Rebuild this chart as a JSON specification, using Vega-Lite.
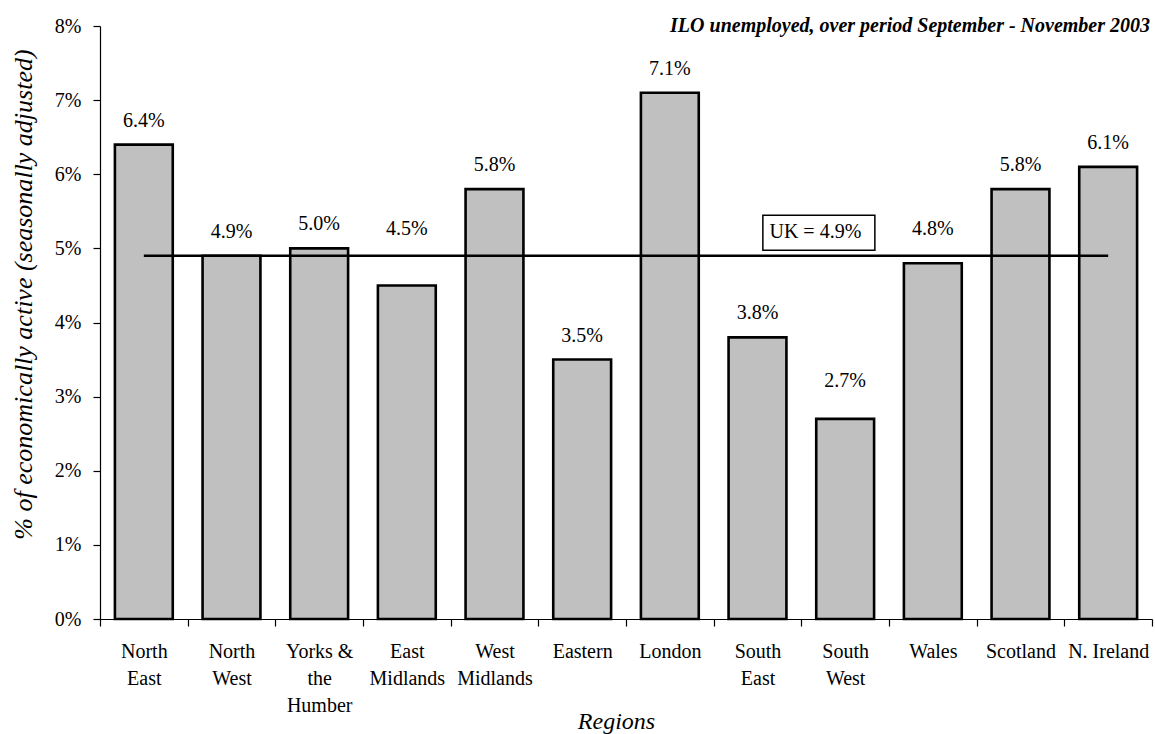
{
  "$schema": "https://vega.github.io/schema/vega-lite/v6.json",
  "autosize": {"type": "none"},
  "padding": {"left": 100, "top": 26, "right": 3, "bottom": 115},
  "width": 1052,
  "height": 593,
  "background": "white",
  "config": {
    "font": "Liberation Serif",
    "view": {"stroke": null},
    "text": {"font": "Liberation Serif"},
    "axis": {"grid": false, "domainColor": "black", "tickColor": "black", "labelColor": "black", "titleColor": "black", "domainWidth": 1.2, "tickWidth": 1.2, "labelFont": "Liberation Serif", "titleFont": "Liberation Serif"}
  },
  "title": {
    "text": "ILO unemployed, over period September - November 2003",
    "anchor": "end",
    "frame": "group",
    "font": "Liberation Serif",
    "fontSize": 20,
    "fontStyle": "italic",
    "fontWeight": "bold",
    "color": "black",
    "baseline": "alphabetic",
    "offset": 0,
    "dy": 36,
    "dx": -2
  },
  "data": {
    "values": [
      {"region": "North East", "rate": 6.4, "uk": 4.9},
      {"region": "North West", "rate": 4.9, "uk": 4.9},
      {"region": "Yorks & the Humber", "rate": 5.0, "uk": 4.9},
      {"region": "East Midlands", "rate": 4.5, "uk": 4.9},
      {"region": "West Midlands", "rate": 5.8, "uk": 4.9},
      {"region": "Eastern", "rate": 3.5, "uk": 4.9},
      {"region": "London", "rate": 7.1, "uk": 4.9},
      {"region": "South East", "rate": 3.8, "uk": 4.9},
      {"region": "South West", "rate": 2.7, "uk": 4.9},
      {"region": "Wales", "rate": 4.8, "uk": 4.9},
      {"region": "Scotland", "rate": 5.8, "uk": 4.9},
      {"region": "N. Ireland", "rate": 6.1, "uk": 4.9}
    ]
  },
  "transform": [{"calculate": "format(datum.rate, '.1f') + '%'", "as": "label"}],
  "encoding": {
    "x": {
      "field": "region",
      "type": "nominal",
      "sort": null,
      "scale": {"paddingInner": 0, "paddingOuter": 0},
      "axis": {
        "title": "Regions",
        "titleFontSize": 24,
        "titleFontStyle": "italic",
        "titleFontWeight": "normal",
        "titleX": 516,
        "titleY": 109,
        "titleBaseline": "alphabetic",
        "labelAngle": 0,
        "labelFontSize": 20,
        "labelLineHeight": 27,
        "labelPadding": 15,
        "labelLimit": 0,
        "labelBaseline": "top",
        "tickSize": 7,
        "tickBand": "extent",
        "labelExpr": "datum.label == 'N. Ireland' ? datum.label : datum.label == 'Yorks & the Humber' ? ['Yorks &', 'the', 'Humber'] : split(datum.label, ' ')"
      }
    }
  },
  "layer": [
    {
      "mark": {"type": "bar", "width": {"band": 0.66}, "fill": "#c0c0c0", "stroke": "black", "strokeWidth": 2.6},
      "encoding": {
        "y": {
          "field": "rate",
          "type": "quantitative",
          "scale": {"domain": [0, 8], "nice": false},
          "axis": {
            "title": "% of economically active (seasonally adjusted)",
            "titleFontSize": 26,
            "titleFontStyle": "italic",
            "titleFontWeight": "normal",
            "titleAngle": -90,
            "titleBaseline": "middle",
            "titleX": -77,
            "titleY": 268,
            "values": [0, 1, 2, 3, 4, 5, 6, 7, 8],
            "labelExpr": "datum.value + '%'",
            "labelFontSize": 20,
            "labelPadding": 12,
            "tickSize": 7
          }
        }
      }
    },
    {
      "mark": {"type": "line", "color": "black", "strokeWidth": 2.5},
      "encoding": {"y": {"field": "uk", "type": "quantitative"}}
    },
    {
      "transform": [{"filter": "datum.region != 'East Midlands' && datum.region != 'Wales' && datum.region != 'South West'"}],
      "mark": {"type": "text", "font": "Liberation Serif", "fontSize": 20, "baseline": "alphabetic", "dy": -18, "color": "black"},
      "encoding": {"y": {"field": "rate", "type": "quantitative"}, "text": {"field": "label"}}
    },
    {
      "transform": [{"filter": "datum.region == 'East Midlands'"}],
      "mark": {"type": "text", "font": "Liberation Serif", "fontSize": 20, "baseline": "alphabetic", "dy": -50, "color": "black"},
      "encoding": {"y": {"field": "rate", "type": "quantitative"}, "text": {"field": "label"}}
    },
    {
      "transform": [{"filter": "datum.region == 'Wales'"}],
      "mark": {"type": "text", "font": "Liberation Serif", "fontSize": 20, "baseline": "alphabetic", "dy": -28, "color": "black"},
      "encoding": {"y": {"field": "rate", "type": "quantitative"}, "text": {"field": "label"}}
    },
    {
      "transform": [{"filter": "datum.region == 'South West'"}],
      "mark": {"type": "text", "font": "Liberation Serif", "fontSize": 20, "baseline": "alphabetic", "dy": -32, "color": "black"},
      "encoding": {"y": {"field": "rate", "type": "quantitative"}, "text": {"field": "label"}}
    },
    {
      "data": {"values": [{"region": "South West", "pos": 5.21, "note": "UK = 4.9%"}]},
      "mark": {"type": "point", "shape": "M-1,-0.3125L1,-0.3125L1,0.3125L-1,0.3125Z", "size": 12544, "filled": true, "fill": "white", "stroke": "black", "strokeWidth": 1.5, "opacity": 1},
      "encoding": {"x": {"field": "region", "type": "nominal", "sort": null, "bandPosition": 0.2}, "y": {"field": "pos", "type": "quantitative"}}
    },
    {
      "data": {"values": [{"region": "South West", "pos": 5.21, "note": "UK = 4.9%"}]},
      "mark": {"type": "text", "font": "Liberation Serif", "fontSize": 20, "baseline": "middle", "dx": -3.5, "dy": -1, "color": "black"},
      "encoding": {"x": {"field": "region", "type": "nominal", "sort": null, "bandPosition": 0.2}, "y": {"field": "pos", "type": "quantitative"}, "text": {"field": "note"}}
    }
  ]
}
